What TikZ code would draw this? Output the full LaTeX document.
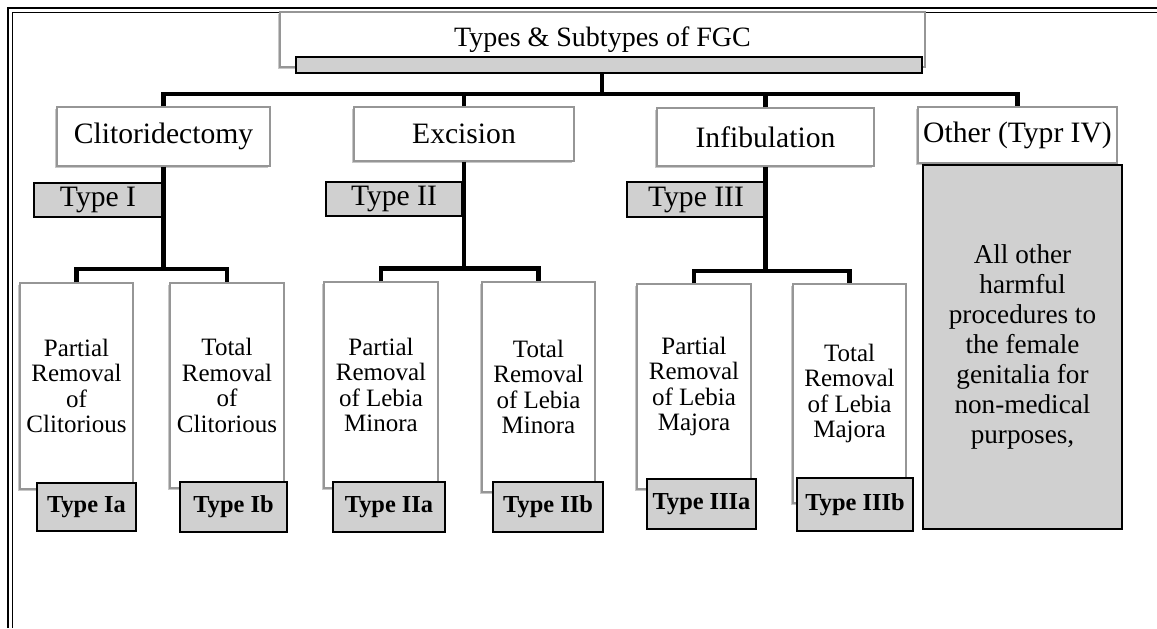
\documentclass[tikz,border=0pt]{standalone}
\usepackage{fontspec}
\setmainfont{Liberation Serif}
\usetikzlibrary{shadows}
\definecolor{boxgray}{RGB}{208,208,208}
\definecolor{boxedge}{RGB}{150,150,150}

\begin{document}
\begin{tikzpicture}[
		x=0.5pt, y=-0.5pt,
		every node/.style={rectangle, inner sep=2pt, align=center},
		whitebox/.style={draw=boxedge, line width=0.6pt, fill=white,
			drop shadow={shadow xshift=-1pt, shadow yshift=-1pt, fill=black, opacity=0.22}},
		graybox/.style={draw=black, line width=1pt, fill=boxgray},
		bus/.style={line width=2.2pt, line join=miter},
		main/.style={whitebox, font=\fontsize{14.8}{16}\selectfont},
		kind/.style={graybox, font=\fontsize{14.8}{16}\selectfont},
		leaf/.style={whitebox, font=\fontsize{12.5}{12.7}\selectfont},
		sub/.style={graybox, font=\fontsize{12.2}{14}\selectfont\bfseries}
	]
  \useasboundingbox (0,0) rectangle (1157,628);
  % frame
  \draw[line width=0.8pt] (8,628) -- (8,8) -- (1157,8);
  \draw[line width=0.5pt] (12,628) -- (12,12) -- (1157,12);

  \node (title) [main, font=\fontsize{14}{16}\selectfont, minimum width=322.5pt, minimum height=27.5pt] at (602.5, 39.5) {Types \& Subtypes of FGC};
  \node (bar) [graybox, inner sep=0pt, minimum width=313pt, minimum height=8pt] at (609, 65) {};

  \node (clit) [main, minimum width=106.5pt, minimum height=29.5pt] at (163.5, 136.5) {Clitoridectomy};
  \node (exc) [main, minimum width=110pt, minimum height=27pt] at (464, 134) {Excision};
  \node (infib) [main, minimum width=108.5pt, minimum height=29pt] at (765.5, 137) {Infibulation};
  \node (other) [main, minimum width=99.5pt, minimum height=28pt] at (1017.5, 135) {Other (Typr IV)};
  \node (rest) [graybox, minimum width=99.5pt, minimum height=182pt, font=\fontsize{13.6}{15}\selectfont] at (1022.5, 347)
    {All other\\harmful\\procedures to\\the female\\genitalia for\\non-medical\\purposes,};

  \node (t1) [kind, minimum width=64pt, minimum height=17pt] at (98, 200) {Type I};
  \node (t2) [kind, minimum width=68pt, minimum height=17pt] at (394, 199) {Type II};
  \node (t3) [kind, minimum width=69pt, minimum height=17.5pt] at (696, 199.5) {Type III};

  \node (pc) [leaf, minimum width=56.5pt, minimum height=103pt] at (76.5, 386) {Partial\\Removal\\of\\Clitorious};
  \node (tc) [leaf, minimum width=57pt, minimum height=102.5pt] at (227, 385.5) {Total\\Removal\\of\\Clitorious};
  \node (pmin) [leaf, minimum width=57pt, minimum height=103pt] at (381, 385) {Partial\\Removal\\of Lebia\\Minora};
  \node (tmin) [leaf, minimum width=56.5pt, minimum height=105pt] at (538.5, 387) {Total\\Removal\\of Lebia\\Minora};
  \node (pmaj) [leaf, minimum width=57pt, minimum height=102.5pt] at (694, 386.5) {Partial\\Removal\\of Lebia\\Majora};
  \node (tmaj) [leaf, minimum width=56.5pt, minimum height=109.5pt] at (849.5, 393.5) {Total\\Removal\\of Lebia\\Majora};

  \node (tIa) [sub, minimum width=49.5pt, minimum height=24pt] at (86.5, 507) {Type Ia};
  \node (tIb) [sub, minimum width=53.5pt, minimum height=25pt] at (233.5, 507) {Type Ib};
  \node (tIIa) [sub, minimum width=56pt, minimum height=25pt] at (389, 507) {Type IIa};
  \node (tIIb) [sub, minimum width=55pt, minimum height=25pt] at (548, 507) {Type IIb};
  \node (tIIIa) [sub, minimum width=54.5pt, minimum height=25pt] at (701.5, 504) {Type IIIa};
  \node (tIIIb) [sub, minimum width=58pt, minimum height=26.5pt] at (855, 504.5) {Type IIIb};

  % top level bus
  \coordinate (hub) at (602, 94);
  \draw[bus] (hub |- bar.south) -- (hub);
  \draw[bus] (clit.north) |- (hub) -| (other.north);
  \draw[bus] (exc.north) -- (exc.north |- hub);
  \draw[bus] (infib.north) -- (infib.north |- hub);

  % second level
  \coordinate (cs) at (163.5, 269);
  \coordinate (es) at (464, 268.5);
  \coordinate (is) at (765.5, 271);
  \draw[bus] (clit.south) -- (cs);
  \draw[bus] (pc.north) |- (cs) -| (tc.north);
  \draw[bus] (exc.south) -- (es);
  \draw[bus] (pmin.north) |- (es) -| (tmin.north);
  \draw[bus] (infib.south) -- (is);
  \draw[bus] (pmaj.north) |- (is) -| (tmaj.north);
\end{tikzpicture}
\end{document}
